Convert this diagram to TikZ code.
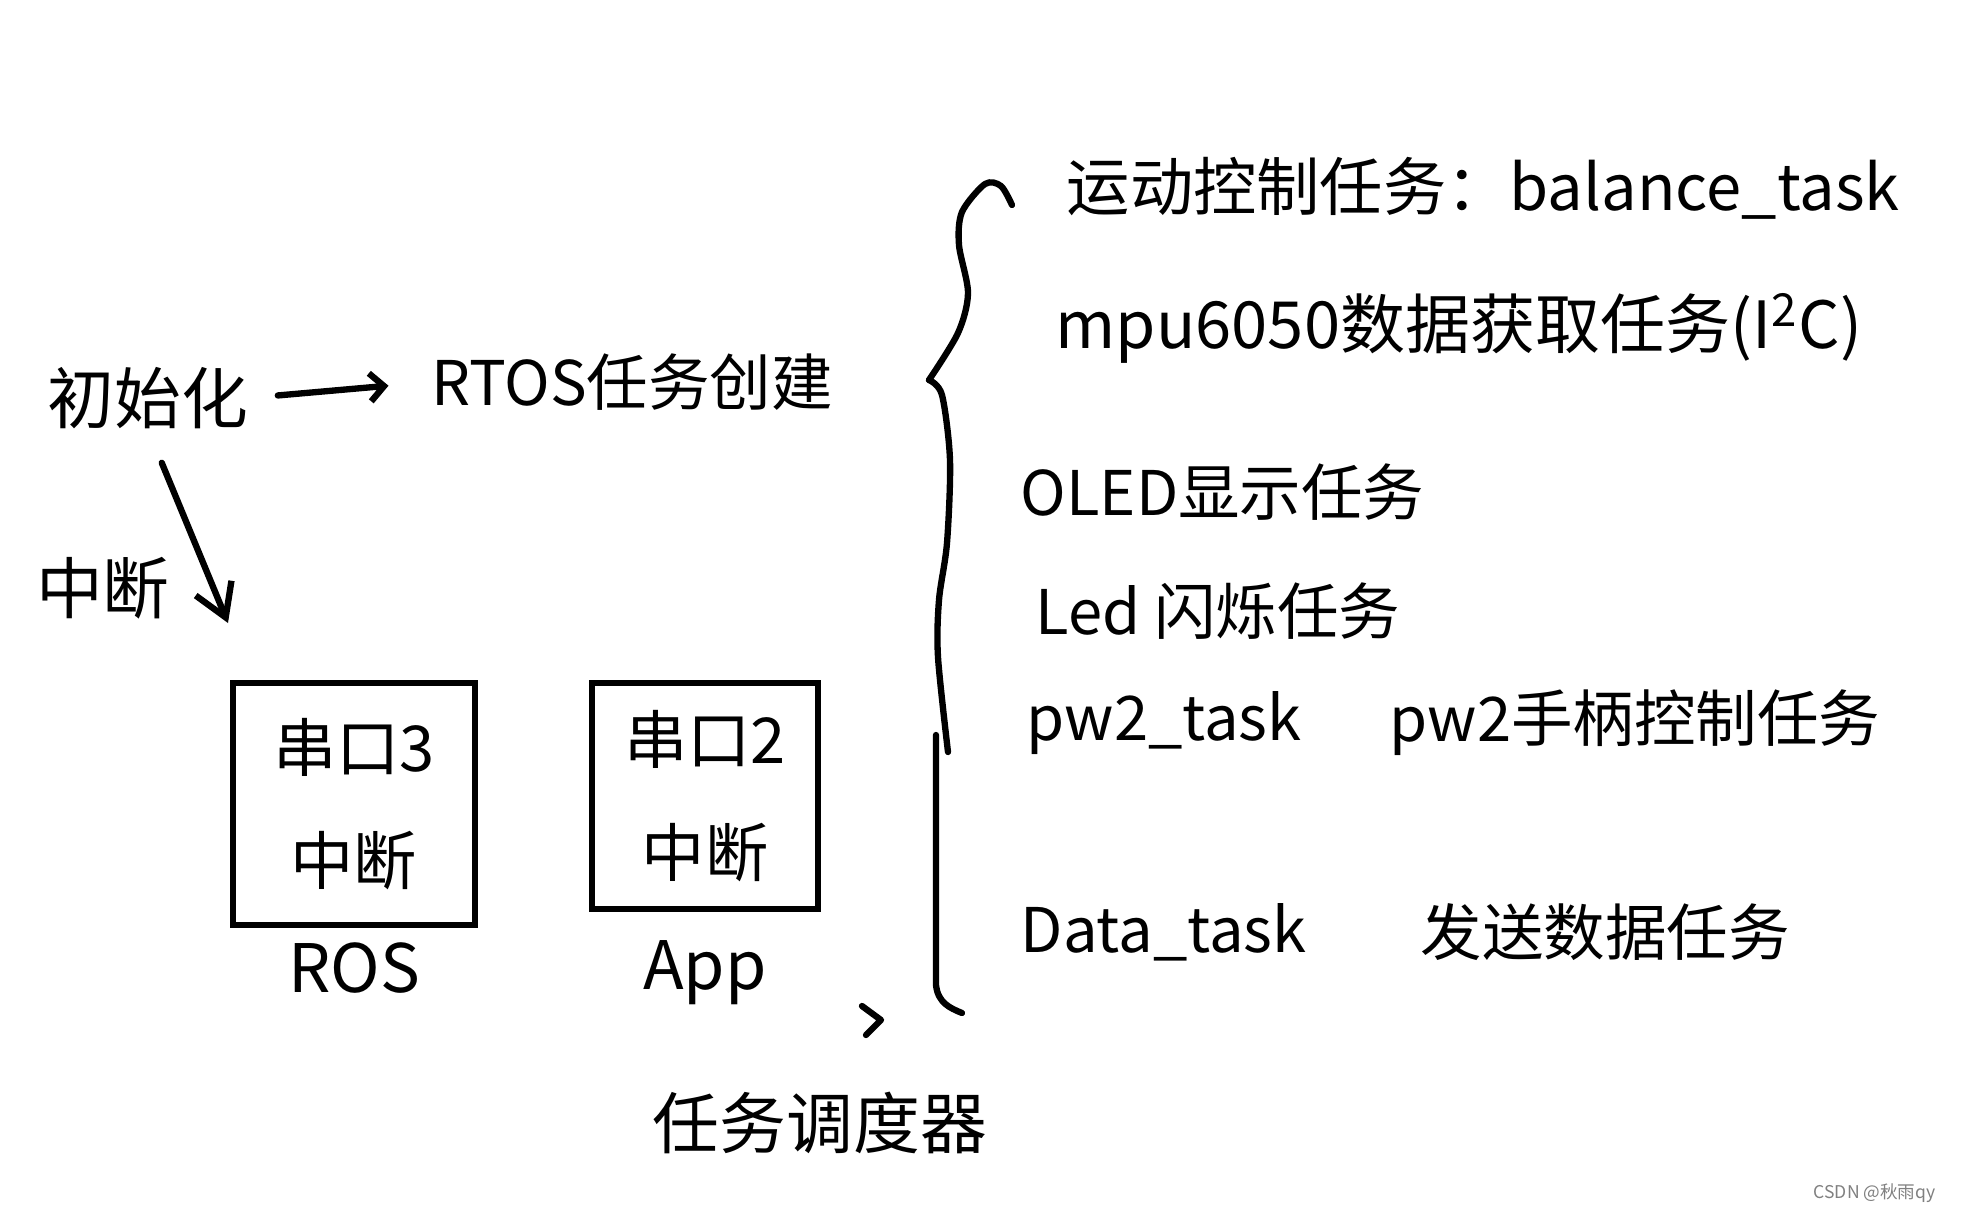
\documentclass[tikz,border=0pt]{standalone}
\usepackage{fontspec}
\newfontfamily\cjk{Noto Sans CJK SC}
\usetikzlibrary{arrows.meta}
\usetikzlibrary{positioning}

\begin{document}
\begin{tikzpicture}[x=0.01cm,y=-0.01cm,
            pen/.style={line width=1.8pt,line cap=round,line join=round},
            hand/.style={font=\cjk\fontsize{19}{23}\selectfont,inner sep=0pt},
            task/.style={hand,anchor=west,font=\cjk\fontsize{17.5}{21}\selectfont},
            port box/.style={draw,line width=1.7pt,align=center,inner sep=0pt,
                             font=\cjk\fontsize{18}{32}\selectfont},
            ]
            \useasboundingbox[fill=white] (0,0) rectangle (1962,1211);

            % start up
            \node[hand] (init) at (148,398) {初始化};
            \node[hand, font=\cjk\fontsize{17.5}{21}\selectfont] (rtos) at (632,382) {RTOS任务创建};
            \draw[pen,-{Straight Barb[length=4pt,width=8pt]},shorten <=0.29cm,shorten >=0.42cm] (init.east) -- (rtos.west);

            % interrupts
            \coordinate (irq tip) at (228,623);
            \draw[pen,-{Straight Barb[length=9pt,width=11pt]},shorten <=0.36cm] (init.south) -- (irq tip);
            \node[hand] (irq) at (103,588) {中断};

            \node[port box, minimum width=2.42cm, minimum height=2.42cm] (ros) at (354,804) {串口3\\中断};
            \node[hand, below=0.14cm of ros] (ros name) {ROS};
            \node[port box, minimum width=2.26cm, minimum height=2.26cm] (app) at (705,796) {串口2\\中断};
            \node[hand, below=0.28cm of app] (app name) {App};

            % scheduler
            \draw[pen] (862,1006) -- (881,1020) -- (866,1035);
            \node[hand] (sched) at (820,1123) {任务调度器};

            % brace
            \draw[pen] plot[smooth] coordinates {(1012,205) (1001,186) (985,184) (962,212) (959,245) (968,293) (958,333) (929,380)};
            \draw[pen] plot[smooth] coordinates {(929,380) (942,395) (950,460) (947,543) (939,600) (938,657) (948,752)};
            \draw[pen] (936,735) -- (936,985) .. controls (938,1003) and (950,1008) .. (962,1013);

            % tasks
            \node[task, font=\cjk\fontsize{18}{21}\selectfont] (balance) at (1066,188) {运动控制任务：balance\_task};
            \node[task, font=\cjk\fontsize{18.5}{21}\selectfont] (mpu) at (1055,328) {mpu6050数据获取任务(I\textsuperscript{2}C)};
            \node[task] (oled) at (1020,492) {OLED显示任务};
            \node[task] (led) at (1035,611) {Led 闪烁任务};
            \node[task] (pw task) at (1026,723) {pw2\_task};
            \node[task] (pw desc) at (1389,723) {pw2手柄控制任务};
            \node[task] (data task) at (1020,932) {Data\_task};
            \node[task] (data desc) at (1420,932) {发送数据任务};

            \node[font=\cjk\fontsize{5}{6}\selectfont, text=gray, anchor=east] (mark) at (1948,1193) {CSDN @秋雨qy};
        \end{tikzpicture}
\end{document}
